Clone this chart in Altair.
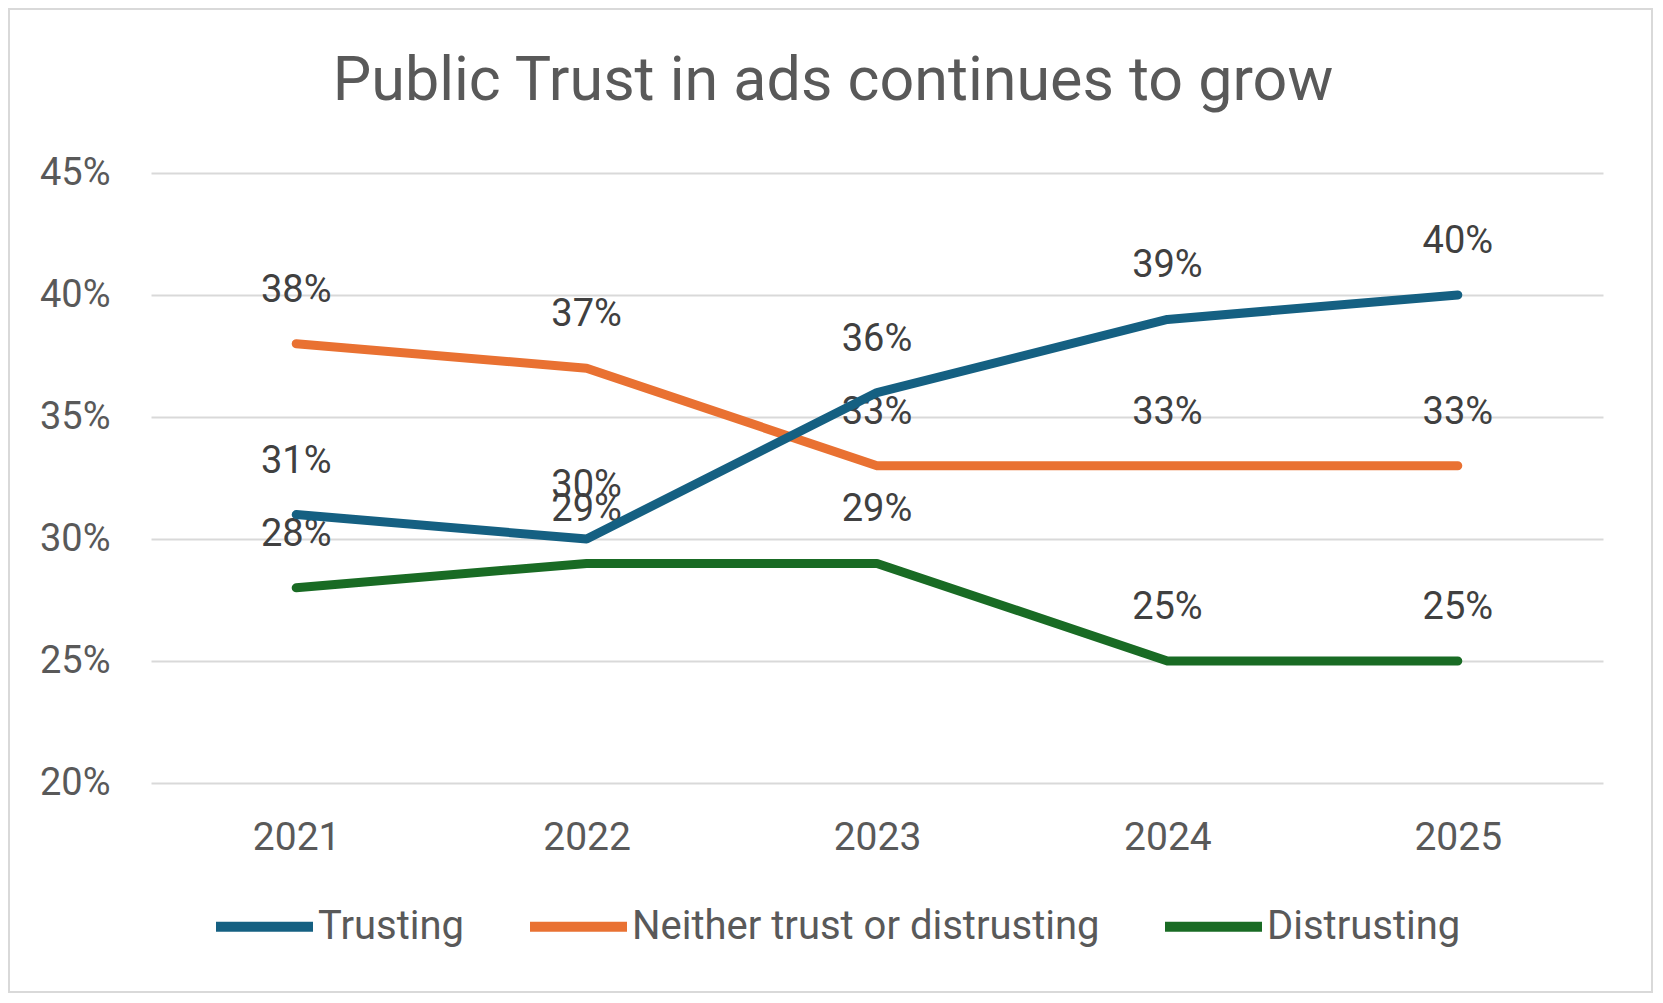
import altair as alt
import pandas as pd

# ---- data ----
years = ["2021", "2022", "2023", "2024", "2025"]
series_names = ["Trusting", "Neither trust or distrusting", "Distrusting"]
trusting = [31, 30, 36, 39, 40]
neither = [38, 37, 33, 33, 33]
distrusting = [28, 29, 29, 25, 25]
series_colors = ["#156082", "#E97132", "#196B24"]
y_tick_values = [20, 25, 30, 35, 40, 45]
title_text = "Public Trust in ads continues to grow"

# draw order: Distrusting first, Trusting last (on top)
rows = []
for name, vals in [("Distrusting", distrusting),
                   ("Neither trust or distrusting", neither),
                   ("Trusting", trusting)]:
    for yr, v in zip(years, vals):
        rows.append({"year": yr, "series": name, "value": v / 100})
df = pd.DataFrame(rows)

FONT = "Roboto"
GRAY = "#595959"

W, H = 1452, 610
PAD = {"left": 143, "top": 165, "right": 50, "bottom": 210}

x_enc = alt.X(
    "year:O",
    scale=alt.Scale(type="point", padding=0.5, domain=years),
    axis=alt.Axis(
        title=None, labelAngle=0, domain=False, ticks=False, tickSize=0,
        grid=False, labelPadding=66, labelBaseline="alphabetic",
        labelFontSize=39, labelFont=FONT, labelColor=GRAY,
    ),
)
y_enc = alt.Y(
    "value:Q",
    scale=alt.Scale(domain=[0.20, 0.45], nice=False, zero=False),
    axis=alt.Axis(
        title=None, values=[v / 100 for v in y_tick_values], format=".0%",
        domain=False, ticks=False, tickSize=0, labelPadding=41,
        labelFontSize=38, labelFont=FONT, labelColor=GRAY,
        grid=True, gridColor="#d9d9d9", gridWidth=2,
    ),
)

border = alt.Chart(alt.Data(values=[{}])).mark_rect(
    filled=False, stroke="#d9d9d9", strokeWidth=2
).encode(
    x=alt.value(-PAD["left"] + 1),
    x2=alt.value(W + PAD["right"] - 1),
    y=alt.value(-PAD["top"] + 1),
    y2=alt.value(H + PAD["bottom"] - 1),
)

labels = alt.Chart(df).mark_text(
    dy=-42, fontSize=38, font=FONT, color="#404040",
    baseline="alphabetic", align="center",
).encode(
    x=x_enc, y=y_enc, text=alt.Text("value:Q", format=".0%"),
)

lines = alt.Chart(df).mark_line(
    strokeWidth=9, strokeCap="round", strokeJoin="round"
).encode(
    x=x_enc, y=y_enc,
    color=alt.Color(
        "series:N",
        scale=alt.Scale(domain=series_names, range=series_colors),
        legend=alt.Legend(
            title=None, orient="none", legendX=60, legendY=700,
            direction="horizontal", symbolType="stroke",
            symbolSize=9409, symbolStrokeWidth=10,
            labelFontSize=40, labelFont=FONT, labelColor=GRAY,
            labelOffset=0, columnPadding=45, padding=0, labelLimit=0,
        ),
    ),
)

chart = alt.layer(border, labels, lines).properties(
    width=W, height=H,
    padding=PAD,
    autosize=alt.AutoSizeParams(type="none"),
    background="white",
    title=alt.TitleParams(
        title_text, fontSize=61, font=FONT, color=GRAY, fontWeight="normal",
        anchor="middle", frame="group", dx=-44, baseline="alphabetic",
        offset=-153,
    ),
).configure_view(stroke=None)

chart.save("out.html", embed_options={"renderer": "svg", "actions": False})
